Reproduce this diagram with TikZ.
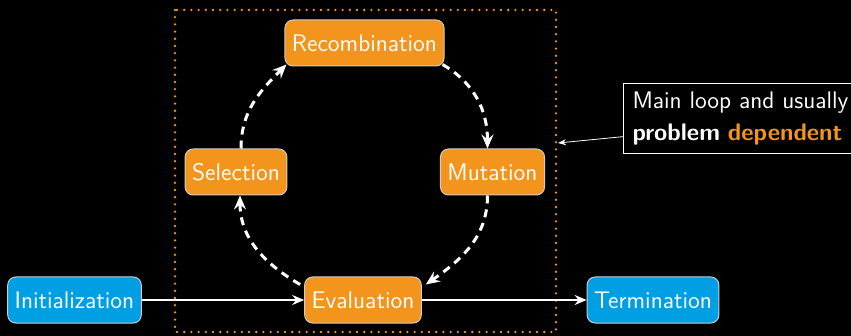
\documentclass[tikz,border=0pt]{standalone}
\usetikzlibrary{arrows.meta,calc}
\definecolor{stageorange}{RGB}{243,148,28}
\definecolor{stageblue}{RGB}{0,158,227}
\definecolor{edgegray}{RGB}{205,205,205}
\tikzset{
  stage/.style={draw=edgegray, line width=0.5pt, rounded corners=4pt, text=white,
    font=\sffamily\fontsize{12}{14}\selectfont, minimum height=23pt, inner xsep=3.5pt},
  inner/.style={stage, fill=stageorange},
  outer/.style={stage, fill=stageblue},
  flow/.style={white, line width=1pt, -{Stealth[length=6pt,width=5pt,inset=2pt]}},
  loopflow/.style={white, line width=1.5pt, dash pattern=on 4pt off 3pt,
    -{Stealth[length=7pt,width=6pt,inset=2.5pt]}},
  loopframe/.style={draw=stageorange, line width=1.3pt, line cap=round, dash pattern=on 0pt off 3.6pt},
  notebox/.style={draw=white, line width=0.5pt, text=white, align=left, anchor=west,
    font=\sffamily\fontsize{12}{16}\selectfont, inner xsep=4.5pt, inner ysep=4pt},
  pointer/.style={white, line width=0.4pt, -{Stealth[length=4pt,width=3pt]}}
}
\begin{document}
\begin{tikzpicture}[x=0.5pt,y=-0.5pt]
  \clip (0,0) rectangle (851,336);
  \fill[black] (0,0) rectangle (851,336);

  % dotted frame around the main loop
  \coordinate (frameTL) at (175,10);
  \coordinate (frameBR) at (556,332);
  \draw[loopframe] (frameTL) rectangle (frameBR);

  % stages
  \node[outer] (init) at (74.5,300) {Initialization};
  \node[inner] (eval) at (363,300) {Evaluation};
  \node[outer] (term) at (653,300) {Termination};
  \node[inner] (rec)  at (364.5,43) {Recombination};
  \node[inner] (sel)  at (236,172) {Selection};
  \node[inner] (mut)  at (492.5,172) {Mutation};

  % straight flow
  \draw[flow] (init) -- (eval);
  \draw[flow] (eval) -- (term);

  % the loop
  \draw[loopflow] ($(eval.north west)+(-4,8)$) to[out=150,in=-90] ($(sel.south)+(4,0)$);
  \draw[loopflow] ($(sel.north)+(5,0)$) to[out=90,in=225] ($(rec.south west)+(2,-2)$);
  \draw[loopflow] ($(rec.south east)+(-2,-2)$) to[out=-30,in=90] ($(mut.north)+(-5,0)$);
  \draw[loopflow] ($(mut.south)+(-5,0)$) to[out=-90,in=35] ($(eval.north east)+(4,8)$);

  % annotation
  \node[notebox] (note) at (623,118.5) {Main loop and usually\\\textbf{problem} \textbf{\textcolor{stageorange}{dependent}}};
  \coordinate (frameedge) at (558,143);
  \draw[pointer] ($(note.south west)+(0,-17)$) -- (frameedge);
\end{tikzpicture}
\end{document}
